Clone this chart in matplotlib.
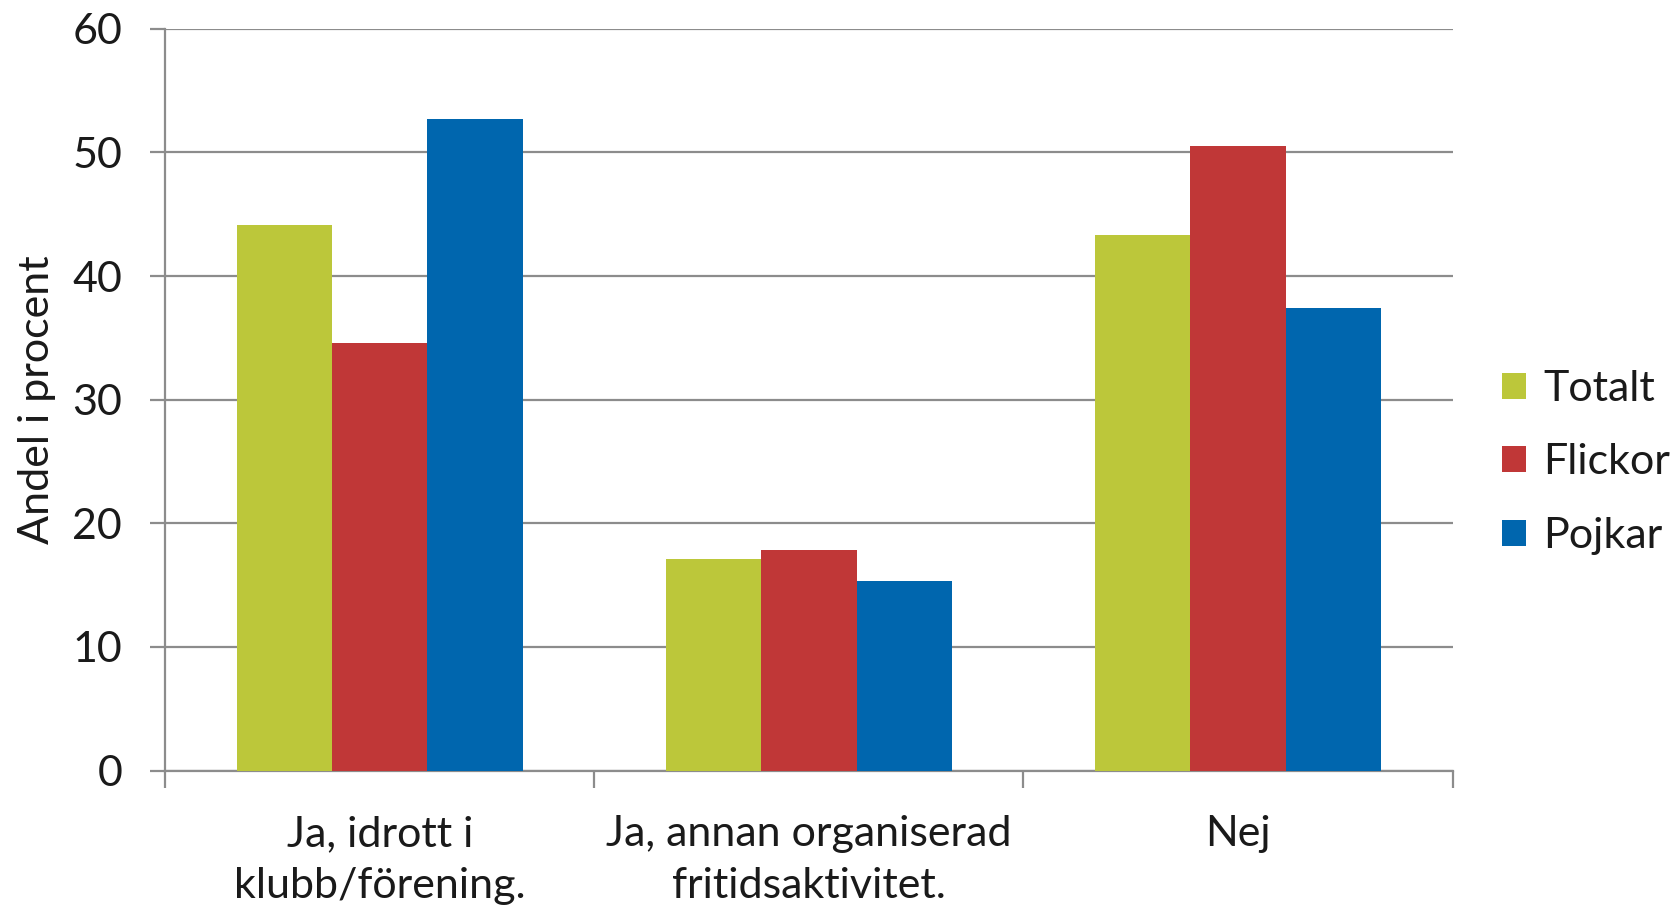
import matplotlib
matplotlib.use("Agg")
import matplotlib.pyplot as plt
import numpy as np

categories = ["Ja, idrott i\nklubb/förening.", "Ja, annan organiserad\nfritidsaktivitet.", "Nej"]
series_names = ["Totalt", "Flickor", "Pojkar"]
totalt = [44.1, 17.1, 43.3]
flickor = [34.6, 17.8, 50.5]
pojkar = [52.7, 15.3, 37.4]
colors = ["#BCC73A", "#C03737", "#0066AE"]
yticks = [0, 10, 20, 30, 40, 50, 60]

plt.rcParams['font.family'] = ['Lato', 'DejaVu Sans']
FS = 31
TC = "#1a1a1a"

fig = plt.figure(figsize=(16.71, 9.14), dpi=100)
ax = fig.add_axes([0.0989, 0.157, 0.8693 - 0.0989, 0.9685 - 0.157])

x = np.arange(len(categories))
w = 1 / 4.5
for i, (vals, name, c) in enumerate(zip([totalt, flickor, pojkar], series_names, colors)):
    ax.bar(x + (i - 1) * w, vals, width=w, color=c, label=name, zorder=3)

ax.set_xlim(-0.5, len(categories) - 0.5)
ax.set_ylim(0, 60)
ax.set_yticks(yticks)
ax.set_yticklabels([str(v) for v in yticks], fontsize=FS, color=TC)
ax.yaxis.grid(True, color="#8c8c8c", linewidth=1.6, zorder=0)
ax.set_axisbelow(True)

ax.set_xticks(np.arange(len(categories) + 1) - 0.5)
ax.set_xticklabels([])
ax.set_xticks(x, minor=True)
ax.set_xticklabels(categories, minor=True, fontsize=FS, linespacing=1.45, color=TC)
ax.tick_params(axis='x', which='minor', length=0, pad=32)
ax.tick_params(axis='x', which='major', length=12, width=1.6, color="#8c8c8c")
ax.tick_params(axis='y', length=11, width=1.6, color="#8c8c8c", pad=20)

for s in ["top", "right"]:
    ax.spines[s].set_visible(False)
for s in ["left", "bottom"]:
    ax.spines[s].set_color("#8c8c8c")
    ax.spines[s].set_linewidth(1.6)

ax.set_ylabel("Andel i procent", fontsize=FS, labelpad=12, color=TC)

leg = fig.legend(loc="center left", bbox_to_anchor=(0.899, 0.494), frameon=False,
                 prop={'size': FS}, handlelength=0.55, handleheight=0.55,
                 handletextpad=0.4, labelspacing=0.82, borderaxespad=0, borderpad=0)
for t in leg.get_texts():
    t.set_color(TC)

fig.savefig("out.png", dpi=100)
